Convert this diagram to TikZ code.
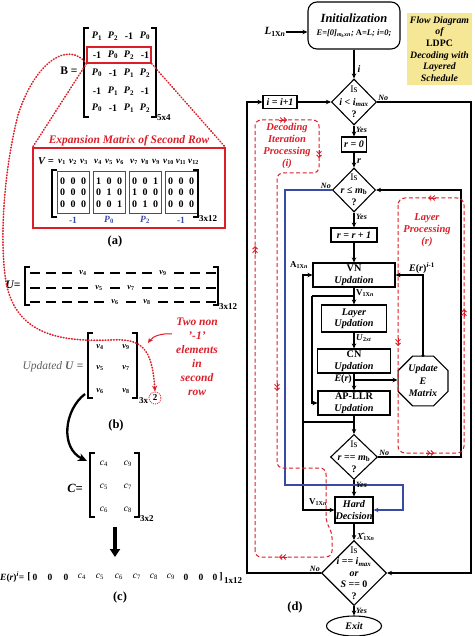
\documentclass[tikz,border=0pt]{standalone}
\usepackage{fontspec}
\setmainfont{Liberation Serif}
\usetikzlibrary{shapes.geometric,arrows.meta,calc}
\definecolor{figred}{RGB}{220,30,40}
\definecolor{figblue}{RGB}{55,75,165}
\definecolor{figyellow}{RGB}{245,231,150}
\definecolor{figgray}{RGB}{95,95,95}
\newcommand{\fs}[2]{\fontsize{#1}{#2}\selectfont}
\newcommand{\vv}[1]{\textit{v}\textsubscript{#1}}
\newcommand{\Pp}[1]{\textit{P}\textsubscript{#1}}
\newcommand{\cc}[1]{{\mdseries\textit{c}\textsubscript{#1}}}
\newcommand{\brk}[4]{%
  \draw[bracket] (#1+5,#2) -- (#1,#2) -- (#1,#4) -- (#1+5,#4);
  \draw[bracket] (#3-5,#2) -- (#3,#2) -- (#3,#4) -- (#3-5,#4);}
\tikzset{
  >={Stealth[length=5pt,width=4.5pt]},
  conn/.style={line width=1.1pt},
  proc/.style={draw, line width=1.1pt, fill=white, align=center, inner sep=0pt,
    font=\bfseries\itshape\fs{10.2}{11.5}},
  dec/.style={draw, line width=1.1pt, diamond, inner sep=0pt},
  dectext/.style={align=center, font=\bfseries\fs{10}{12.5}},
  flowlbl/.style={font=\bfseries\itshape\fs{8}{9}, inner sep=1pt},
  edgelbl/.style={font=\bfseries\fs{9}{10}, inner sep=0pt},
  reddash/.style={figred, line width=1pt, dash pattern=on 4pt off 2.5pt},
  redmark/.style={figred, line width=0.9pt, -{Straight Barb[length=2.5pt,width=5pt]Straight Barb[length=2.5pt,width=5pt]}},
  reddot/.style={figred, line width=1.6pt, dash pattern=on 0.7pt off 2.1pt, line cap=round},
  redtext/.style={figred, align=center, font=\bfseries\itshape\fs{11.5}{14}},
  bracket/.style={line width=1.1pt},
  entry/.style={font=\bfseries\fs{10}{10}, inner sep=0pt},
  dimlbl/.style={font=\bfseries\fs{9}{10}, anchor=west, inner sep=0pt},
  caplbl/.style={font=\bfseries\fs{12.5}{13}},
}
\begin{document}
\begin{tikzpicture}[x=1pt, y=-1pt]
\useasboundingbox (0,0) rectangle (474,636);

% (a) base matrix and expansion of its second row
\node[font=\bfseries\fs{11.5}{12}] (Blbl) at (69,71) {B =};
\brk{84}{28}{156}{117}
\node[draw=figred, line width=1.1pt, minimum width=64pt, minimum height=16pt, inner sep=0pt] (rowbox) at (119,55) {};
\foreach \y/\row [count=\r] in {36/{\Pp{1},\Pp{2},-1,\Pp{0}}, 55/{-1,\Pp{0},\Pp{2},-1}, 73/{\Pp{0},-1,\Pp{1},\Pp{2}}, 91/{-1,\Pp{1},\Pp{2},-1}, 108/{\Pp{0},-1,\Pp{1},\Pp{2}}}
  \foreach \e [count=\c] in \row
    \node[entry] (b-\r-\c) at (81+16*\c,\y) {\e};
\node[dimlbl] (Bdim) at (157,118) {5x4};

\node[draw=figred, line width=1.1pt, minimum width=192pt, minimum height=80pt, inner sep=0pt] (expbox) at (129,188) {};
\node[redtext] (exptitle) at (129,141) {Expansion Matrix of Second Row};
\draw[reddot] (rowbox.south west) -- (expbox.north west);
\draw[reddot] (rowbox.south east) -- (expbox.north east);
\node[font=\bfseries\itshape\fs{10.5}{11}] (Vlbl) at (46,161) {V =};
\foreach \k in {1,...,12}{
  \pgfmathsetmacro\vs{ifthenelse(\k>9,12.5,11)}
  \pgfmathsetmacro\vx{73+36*int((\k-1)/3)+\vs*(mod(\k-1,3)-1)}
  \node[font=\bfseries\fs{9}{10}, inner sep=0pt] (v-\k) at (\vx,162) {\vv{\k}};
}
\foreach \j/\lbl/\pat in {1/-1/{0,0,0,0,0,0,0,0,0}, 2/\Pp{0}/{1,0,0,0,1,0,0,0,1}, 3/\Pp{2}/{0,0,1,1,0,0,0,1,0}, 4/-1/{0,0,0,0,0,0,0,0,0}}{
  \pgfmathsetmacro\bx{73+36*(\j-1)}
  \node[draw=figblue, line width=1pt, minimum width=32pt, minimum height=41pt, inner sep=0pt] (blk-\j) at (\bx,192.5) {};
  \node[font=\bfseries\fs{9.5}{10}, text=figblue, inner sep=0pt] (blkl-\j) at (\bx,220) {\lbl};
  \foreach \d [count=\n from 0] in \pat {
    \pgfmathsetmacro\dx{\bx+10.5*(mod(\n,3)-1)}
    \pgfmathsetmacro\dy{181+11.5*int(\n/3)}
    \node[entry] (e-\j-\n) at (\dx,\dy) {\d};
  }
}
\brk{52}{170}{198}{217}
\node[dimlbl] (Vdim) at (199,219) {3x12};
\node[caplbl] (capa) at (115,241) {(a)};

% (b) U and updated U
\node[font=\bfseries\itshape\fs{11.5}{12}] (Ulbl) at (13,285) {U=};
\brk{25}{267}{218}{305}
\foreach \r/\y/\ca/\cb in {1/273/4/9, 2/288/5/7, 3/302/6/8}
  \foreach \k in {1,...,12}{
    \pgfmathsetmacro\ux{35+16*(\k-1)}
    \ifnum\k=\ca \node[font=\bfseries\fs{8.5}{9}, inner sep=0pt] (u-\r-\k) at (\ux,\y) {\vv{\k}};
    \else\ifnum\k=\cb \node[font=\bfseries\fs{8.5}{9}, inner sep=0pt] (u-\r-\k) at (\ux,\y) {\vv{\k}};
    \else \draw[line width=1.2pt] (\ux-5,\y) -- (\ux+5,\y);
    \fi\fi
  }
\node[dimlbl] (Udim) at (219,307) {3x12};

\node[font=\fs{11.5}{12}, text=figgray] (updlbl) at (53,367) {\textit{Updated} \textbf{\textit{U} =}};
\brk{88}{333}{137}{398}
\foreach \y/\a/\b [count=\r] in {347/4/9, 368/5/7, 391/6/8}{
  \node[font=\bfseries\fs{8.5}{9}, inner sep=0pt] (w-\r-1) at (100,\y) {\vv{\a}};
  \node[font=\bfseries\fs{8.5}{9}, inner sep=0pt] (w-\r-2) at (126,\y) {\vv{\b}};
}
\node[dimlbl] (wdim) at (139,401) {3x};
\node[font=\bfseries\fs{9}{10}, draw=figred, circle, line width=0.8pt, dash pattern=on 1pt off 1pt, minimum size=12pt, inner sep=0pt] (two) at (155,398) {2};
\draw[reddot, -{Stealth[length=6pt,width=5pt]}] (rowbox.south west) .. controls (68,40) and (35,62) .. (18,115)
  .. controls (4,170) and (0,235) .. (5,275) .. controls (12,335) and (60,342) .. (110,340)
  .. controls (142,338) and (152,348) .. (two.north);
\node[redtext] (twonon) at (197,357) {Two non\\'-1'\\elements\\in\\second\\row};
\coordinate (tnstart) at (172,334);
\coordinate (tnend) at (148,343);
\draw[figred, line width=1pt, ->] (tnstart) .. controls (162,333) and (153,336) .. (tnend);
\node[caplbl] (capb) at (116,425) {(b)};
\coordinate (bstart) at (85,394);
\coordinate (bend) at (87,461);
\draw[line width=2.3pt, -{Stealth[length=9pt,width=8pt]}] (bstart) .. controls (64,410) and (60,448) .. (bend);

% (c) C and the E row
\node[font=\bfseries\itshape\fs{12.5}{13}] (Clbl) at (75,488) {C=};
\brk{90}{453}{139}{517}
\foreach \y/\a/\b [count=\r] in {464/4/9, 487/5/7, 510/6/8}{
  \node[font=\fs{9.5}{9}, inner sep=0pt] (c-\r-1) at (104,\y) {\cc{\a}};
  \node[font=\fs{9.5}{9}, inner sep=0pt] (c-\r-2) at (128,\y) {\cc{\b}};
}
\node[dimlbl] (Cdim) at (140,519) {3x2};
\coordinate (dtop) at (115,527);
\coordinate (dbot) at (115,557);
\draw[line width=3.5pt, -{Triangle[length=8pt,width=10pt]}] (dtop) -- (dbot);
\node[font=\bfseries\fs{9.5}{10}, anchor=west, inner sep=0pt] (Elbl) at (0,577) {\textit{E}(\textit{r})\textsuperscript{\textit{i}}=};
\node[entry] (Eopen) at (29,577) {[};
\foreach \x/\t [count=\k] in {35/0,50/0,66/0,82/\cc{4},100/\cc{5},119/\cc{6},137/\cc{7},154/\cc{8},171/\cc{9},186/0,201/0,215/0}
  \node[font=\bfseries\fs{9.5}{10}, inner sep=0pt] (E-\k) at (\x,577) {\t};
\node[entry] (Eclose) at (221,577) {]};
\node[dimlbl] (Edim) at (224,581) {1x12};
\node[caplbl] (capc) at (120,597) {(c)};

% (d) flow diagram
\node[proc, rounded corners=9pt, minimum width=92pt, minimum height=47pt] (init) at (354,25.5)
  {\fs{12.5}{14}Initialization\\[2pt]\fs{8.5}{10}\textit{E}=[0]\textsubscript{\textit{m}\textsubscript{b}x\textit{n}}; \textup{A}=\textit{L}; \textit{i}=0;};
\node[font=\bfseries\itshape\fs{11}{12}, inner sep=0pt] (Lin) at (275,32) {L\textsubscript{\upshape 1X\itshape n}};
\node[fill=figyellow, align=center, minimum width=65pt, minimum height=72pt, inner sep=0pt,
  font=\bfseries\itshape\fs{9.8}{11.6}] (title) at (439.5,49) {Flow Diagram\\of\\\textup{LDPC}\\Decoding with\\Layered\\Schedule};

\node[dec, minimum width=45pt, minimum height=46pt] (d1) at (354,102) {};
\node[dectext] (d1t) at (d1) {\mdseries Is\\\textit{i} < \textit{i}\textsubscript{\textit{max}}\\?};
\node[proc, font=\bfseries\itshape\fs{10}{11}, minimum width=34pt, minimum height=13pt] (inc) at (280,102) {\textit{i} = \textit{i}+1};
\node[proc, font=\bfseries\itshape\fs{10}{11}, minimum width=25pt, minimum height=15pt] (r0) at (354,144.5) {\textit{r} = 0};
\node[dec, minimum width=43pt, minimum height=44pt] (d2) at (354,190) {};
\node[dectext] (d2t) at (d2) {\mdseries Is\\\textit{r} ≤ \textit{m}\textsubscript{b}\\?};
\node[proc, font=\bfseries\itshape\fs{10}{11}, minimum width=46pt, minimum height=14pt] (rinc) at (354,235) {\textit{r} = \textit{r} + 1};
\node[proc, minimum width=82pt, minimum height=24pt] (vn) at (354,275) {\textup{VN}\\Updation};
\node[proc, minimum width=65pt, minimum height=27pt] (layer) at (354,318.5) {Layer\\Updation};
\node[proc, minimum width=73pt, minimum height=24pt] (cn) at (354,361) {\textup{CN}\\Updation};
\node[proc, minimum width=72pt, minimum height=24pt] (ap) at (354,403) {\textup{AP-LLR}\\Updation};
\node[draw, line width=1.1pt, fill=white, regular polygon, regular polygon sides=8, minimum size=54pt, inner sep=0pt,
  align=center, font=\bfseries\itshape\fs{10}{12.5}] (oct) at (423,381) {Update\\E\\Matrix};
\node[dec, minimum width=47pt, minimum height=45pt] (d4) at (354,457) {};
\node[dectext] (d4t) at (d4) {\mdseries Is\\\textit{r} == \textit{m}\textsubscript{b}\\?};
\node[proc, minimum width=38pt, minimum height=26pt] (hd) at (354,510) {Hard\\Decision};
\node[dec, minimum width=65pt, minimum height=65pt] (d5) at (354,573) {};
\node[dectext, font=\bfseries\fs{10}{11.5}] (d5t) at (d5) {\mdseries Is\\\textbf{\textit{i} == \textit{i}\textsubscript{\textit{max}}}\\\textbf{\textit{or}}\\\textbf{\textit{S} == 0}\\?};
\node[draw, line width=1.1pt, ellipse, minimum width=55pt, minimum height=20pt, inner sep=0pt,
  font=\bfseries\itshape\fs{10}{11}] (exit) at (354,626) {Exit};

% main connectors
\draw[conn, ->] (Lin.east) -- (Lin.east -| init.west);
\draw[conn, ->] (init) -- (d1);
\draw[conn, ->] (inc) -- (d1);
\draw[conn, ->] (d1) -- (r0);
\draw[conn, ->] (r0) -- (d2);
\draw[conn, ->] (d2) -- (rinc);
\draw[conn, ->] (rinc) -- (vn);
\draw[conn, ->] (vn) -- (layer);
\draw[conn, ->] (layer) -- (cn);
\draw[conn, ->] (cn) -- (ap);
\draw[conn, ->] (ap) -- (d4);
\draw[conn, ->] (d4) -- (hd);
\draw[conn, ->] (hd) -- (d5);
\draw[conn, ->] (d5) -- (exit);
\coordinate (rtop) at (471,102);
\coordinate (lft) at (247,102);
\draw[conn, ->] (d1.east) -- (rtop) |- (d5.east);
\draw[conn, ->] (d5.west) -| (lft) -- (inc.west);
\coordinate (rr) at (461,457);
\draw[conn, ->] (d4.east) -- (rr) |- (d2.east);
\coordinate (vnj) at (354,296);
\coordinate (vnl) at (312,296);
\draw[conn] (vnj) -- (vnl);
\draw[conn, ->] (vnl) |- (ap.west);
\coordinate (erj) at (354,380);
\draw[conn, ->] (erj) -- (erj -| oct.west);
\coordinate (apj) at (354,422);
\coordinate (apl) at (303,422);
\draw[conn] (apj) -- (apl);
\draw[conn, ->] (apl) |- (vn.west);
\draw[conn, ->] (apl) |- (hd.west);
\fill (oct.north) circle (1.6pt);
\draw[conn, ->] (oct.north) |- (vn.east);
\coordinate (bl1) at (285,190);
\coordinate (bl2) at (285,485);
\coordinate (bl3) at (403,485);
\draw[figblue, line width=1.1pt, ->] (d2.west) -- (bl1) -- (bl2) -- (bl3) |- (hd.east);

% connector labels
\node[flowlbl, anchor=south west] (d1no) at (d1.east) {No};
\node[flowlbl, anchor=north west] (d1yes) at ($(d1.south)+(1,1)$) {Yes};
\node[flowlbl, anchor=south east] (d2no) at (d2.west) {No};
\node[flowlbl, anchor=north west] (d2yes) at ($(d2.south)+(1,1)$) {Yes};
\node[flowlbl, anchor=south west] (d4no) at (d4.east) {No};
\node[flowlbl, anchor=north west] (d4yes) at ($(d4.south)+(1,1)$) {Yes};
\node[flowlbl, anchor=south east] (d5no) at (d5.west) {No};
\node[flowlbl, anchor=north west] (d5yes) at ($(d5.south)+(1,1)$) {Yes};
\node[edgelbl, font=\bfseries\itshape\fs{10}{11}] (ilbl) at (359,69) {i};
\node[edgelbl, font=\bfseries\itshape\fs{10}{11}] (rlbl) at (359,161) {r};
\node[edgelbl, anchor=west] (vnlbl) at (356,293) {V\textsubscript{1X\textit{n}}};
\node[edgelbl, anchor=west] (ulbl) at (356,338) {\textit{U}\textsubscript{2\textit{xt}}};
\node[edgelbl, anchor=east, font=\bfseries\fs{10}{11}] (erlbl) at (352,379) {\textit{E}(\textit{r})};
\node[edgelbl, anchor=west] (xlbl) at (357,537) {\^{\textit{X}}\textsubscript{1X\textit{n}}};
\node[edgelbl] (alab) at (299,265) {A\textsubscript{1X\textit{n}}};
\node[edgelbl] (vhd) at (318,502) {V\textsubscript{1X\textit{n}}};
\node[edgelbl, font=\bfseries\fs{10}{11}] (eilbl) at (422,268) {\textit{E}(\textit{r})\textsuperscript{\textit{i}-1}};

% red processing loops
\draw[reddash, rounded corners=6pt] (255,557) -- (255,120) -- (319,120) -- (319,173) -- (277,173) -- (277,468)
  -- (326,468) -- (326,522) -- (332,532) -- (332,557) -- cycle;
\draw[redmark] (279,120) -- (287,120);
\draw[redmark] (319,150) -- (319,158);
\draw[redmark] (255,254) -- (255,246);
\draw[redmark] (277,383) -- (277,391);
\draw[redmark] (287,557) -- (279,557);
\node[redtext, font=\bfseries\itshape\fs{10.5}{12.3}] (dectxt) at (287,146) {Decoding\\Iteration\\Processing\\(\textit{i})};
\draw[reddash, rounded corners=7pt] (398,198) rectangle (464,453);
\draw[redmark] (436,198) -- (428,198);
\draw[redmark] (398,338) -- (398,346);
\draw[redmark] (426,453) -- (434,453);
\draw[redmark] (464,317) -- (464,309);
\node[redtext, font=\bfseries\itshape\fs{10.5}{12}] (laytxt) at (427,230) {Layer\\Processing\\(\textit{r})};
\node[caplbl] (capd) at (295,607) {(d)};
\end{tikzpicture}
\end{document}
